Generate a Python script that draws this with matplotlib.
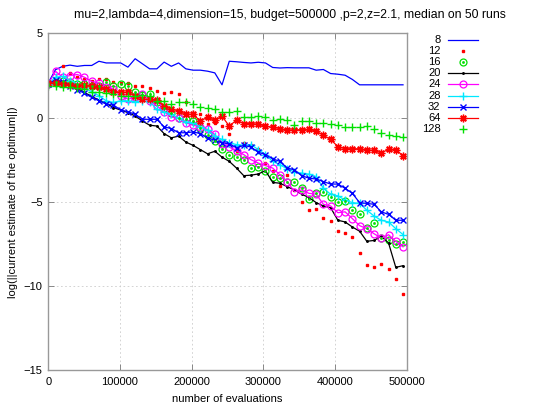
import matplotlib
matplotlib.use("Agg")
import matplotlib.pyplot as plt
from matplotlib.lines import Line2D

plt.rcParams['font.family'] = ['Liberation Sans', 'DejaVu Sans']

title = "mu=2,lambda=4,dimension=15, budget=500000 ,p=2,z=2.1, median on 50 runs"
xlabel = "number of evaluations"
ylabel = "log(||current estimate of the optimum||)"

evaluations = [0, 10100, 20200, 30300, 40400, 50500, 60600, 70700, 80800, 90900,
               101000, 111100, 121200, 131300, 141400, 151500, 161600, 171700, 181800, 191900,
               202000, 212100, 222200, 232300, 242400, 252500, 262600, 272700, 282800, 292900,
               303000, 313100, 323200, 333300, 343400, 353500, 363600, 373700, 383800, 393900,
               404000, 414100, 424200, 434300, 444400, 454500, 464600, 474700, 484800, 494900]

labels = ['8', '12', '16', '20', '24', '28', '32', '64', '128']

s8 = [2.07, 2.85, 3.05, 3.12, 3.05, 3.1, 3.1, 3.35, 3.25, 3.25,
      3.25, 3.0, 3.5, 3.2, 2.9, 2.9, 3.3, 3.05, 3.25, 2.9,
      2.82, 2.82, 2.76, 2.66, 1.95, 3.35, 3.32, 3.28, 3.25, 3.29,
      3.25, 2.98, 2.95, 2.97, 2.96, 2.96, 2.96, 2.82, 2.86, 2.62,
      2.58, 2.52, 2.27, 1.95, 1.95, 1.95, 1.95, 1.95, 1.95, 1.95]

s12 = [2.0, 2.2, 3.05, 2.66, 2.4, 2.3, 2.2, 2.3, 2.27, 2.1,
       2.05, 2.07, 1.9, 1.9, 1.77, 1.6, 1.48, 1.5, 1.38, 0.9,
       0.3, 0.2, -0.4, -0.3, -0.5, -1.0, -2.0, -1.5, -1.6, -1.85,
       -2.7, -3.2, -4.05, -3.42, -4.28, -5.0, -5.52, -5.43, -5.98, -6.12,
       -6.75, -6.86, -7.1, -8.03, -8.74, -8.88, -8.68, -9.02, -9.57, -10.51]

s16 = [2.0, 2.1, 2.2, 2.1, 2.0, 2.0, 1.85, 1.9, 2.1, 1.9,
       2.0, 1.9, 1.5, 1.35, 1.38, 0.9, 0.6, 0.3, 0.0, -0.1,
       -0.2, -0.6, -1.05, -1.4, -1.88, -2.2, -2.37, -2.5, -3.02, -2.95,
       -3.16, -3.55, -3.6, -3.85, -3.8, -4.2, -4.83, -4.5, -4.44, -4.73,
       -5.03, -4.93, -5.52, -5.72, -6.55, -6.25, -7.15, -7.3, -7.5, -7.4]

s20 = [2.0, 2.05, 2.0, 1.9, 1.75, 1.5, 1.25, 1.05, 0.85, 0.6,
       0.45, 0.3, 0.1, -0.2, -0.45, -0.5, -0.95, -1.2, -1.1, -1.45,
       -1.65, -1.9, -2.15, -2.0, -2.35, -2.6, -3.0, -3.45, -3.42, -3.35,
       -3.15, -3.85, -3.9, -4.1, -4.3, -4.55, -4.75, -5.05, -5.25, -5.35,
       -6.1, -6.2, -6.5, -6.75, -7.35, -7.3, -7.05, -7.45, -8.9, -8.8]

s24 = [2.0, 2.75, 2.4, 2.5, 2.56, 2.4, 2.15, 2.05, 1.8, 1.7,
       1.3, 1.1, 1.2, 1.4, 1.0, 0.7, 0.35, 0.05, -0.05, -0.3,
       -0.45, -0.55, -0.7, -1.0, -1.55, -1.75, -1.98, -2.2, -2.5, -2.7,
       -2.85, -3.0, -3.4, -3.8, -4.4, -4.3, -4.5, -4.55, -5.15, -5.25,
       -5.65, -5.6, -6.0, -6.42, -6.6, -6.9, -7.16, -6.96, -7.35, -7.68]

s28 = [2.0, 2.4, 2.45, 2.2, 2.0, 1.75, 1.55, 1.3, 1.0, 0.9,
       1.0, 1.0, 0.95, 1.0, 0.95, 0.5, 0.35, 0.2, -0.05, -0.25,
       -0.3, -0.55, -0.75, -1.1, -1.3, -1.5, -1.6, -1.65, -1.6, -1.9,
       -2.2, -2.6, -2.8, -3.05, -3.22, -3.3, -3.36, -3.5, -4.2, -4.55,
       -4.65, -4.9, -5.05, -5.1, -5.5, -5.85, -6.1, -6.2, -6.6, -6.95]

s32 = [2.0, 2.25, 2.1, 1.9, 1.65, 1.45, 1.2, 1.0, 0.8, 0.75,
       0.45, 0.35, 0.2, -0.1, -0.1, -0.1, -0.55, -0.65, -0.9, -0.9,
       -0.85, -0.95, -1.2, -1.35, -1.5, -1.55, -1.8, -1.65, -1.75, -2.05,
       -2.2, -2.45, -2.6, -3.0, -3.1, -3.45, -3.6, -3.65, -3.8, -3.95,
       -3.95, -4.2, -4.5, -5.05, -5.1, -5.15, -5.6, -5.75, -6.1, -6.1]

s64 = [2.07, 2.05, 2.0, 1.95, 1.9, 1.95, 1.85, 1.8, 1.7, 1.55,
       1.52, 1.5, 1.3, 1.1, 1.08, 1.05, 0.7, 0.5, 0.4, 0.2,
       0.2, -0.2, 0.02, -0.15, 0.08, -0.5, -0.15, -0.35, -0.35, -0.4,
       -0.5, -0.58, -0.65, -0.75, -0.72, -0.72, -0.7, -0.8, -1.05, -1.3,
       -1.72, -1.85, -1.85, -1.85, -1.92, -1.95, -2.1, -1.88, -1.9, -2.27]

s128 = [1.9, 1.88, 1.83, 1.83, 1.77, 1.72, 1.5, 1.55, 1.45, 1.4,
        1.3, 1.3, 1.3, 1.35, 1.3, 1.0, 0.98, 0.78, 0.95, 0.92,
        0.8, 0.65, 0.55, 0.5, 0.35, 0.35, 0.38, 0.02, 0.02, 0.1,
        0.05, -0.15, -0.1, -0.15, -0.42, -0.2, -0.2, -0.3, -0.3, -0.4,
        -0.45, -0.55, -0.55, -0.55, -0.5, -0.65, -0.9, -1.05, -1.1, -1.13]

series = [s8, s12, s16, s20, s24, s28, s32, s64, s128]

BLUE = '#0000ff'
RED = '#ff0000'
GREEN = '#00e000'
MAGENTA = '#ff00ff'
CYAN = '#00e8ff'
BLACK = '#000000'
ASTER = (8, 2, 0)

styles = [
    dict(color=BLUE, lw=0.9, ls='-', marker=None),
    dict(color=RED, lw=0, ls='none', marker='s', ms=1.5),
    dict(color=GREEN, lw=0, ls='none', marker='o', ms=5, mfc='none', mew=0.9),
    dict(color=BLACK, lw=0.9, ls='-', marker='.', ms=2.2),
    dict(color=MAGENTA, lw=0.9, ls='-', marker='o', ms=5, mfc='none', mew=0.9),
    dict(color=CYAN, lw=0.9, ls='-', marker='+', ms=5.5, mew=1.0),
    dict(color=BLUE, lw=0.9, ls='-', marker='x', ms=4.5, mew=1.0),
    dict(color=RED, lw=0.9, ls='-', marker=ASTER, ms=5.5, mew=1.0),
    dict(color=GREEN, lw=0, ls='none', marker='+', ms=5.5, mew=1.0),
]

fig = plt.figure(figsize=(5.4, 4.07), dpi=100)
ax = fig.add_axes([0.0894, 0.0909, 0.6637, 0.8268])

for vals, st in zip(series, styles):
    ax.plot(evaluations, vals, clip_on=True, **st)
# center dots of circle markers (16)
ax.plot(evaluations, s16, ls='none', marker='s', ms=0.9, color=GREEN)

ax.set_xlim(0, 500000)
ax.set_ylim(-15, 5)
ax.set_xticks([0, 100000, 200000, 300000, 400000, 500000])
ax.set_xticklabels(['0', '100000', '200000', '300000', '400000', '500000'])
ax.set_yticks([-15, -10, -5, 0, 5])
ax.tick_params(direction='in', top=True, right=True, length=4, width=0.6,
               color='#777777', labelsize=8, pad=4)
ax.tick_params(axis='x', pad=5)
ax.grid(True, ls=(0, (2, 3)), color='#cccccc', lw=0.6)
ax.set_axisbelow(True)
for sp in ax.spines.values():
    sp.set_color('#999999')
    sp.set_linewidth(1.0)

W, H = 540.0, 407.0
fig.text(290 / W, 1 - 15 / H, title, ha='center', va='center', fontsize=8.8)
ax.set_xlabel(xlabel, fontsize=8, labelpad=5)
ax.set_ylabel(ylabel, fontsize=8, labelpad=4)

# legend (gnuplot style: right-aligned labels, sample to the right)
rows_y = [40, 51, 62.3, 73.3, 84.3, 95.7, 106.7, 118, 129.3]
for lab, st, yp in zip(labels, styles, rows_y):
    yf = 1 - yp / H
    fig.text(440.5 / W, yf, lab, ha='right', va='center', fontsize=8)
    if st['ls'] != 'none':
        fig.add_artist(Line2D([447.5 / W, 478 / W], [yf, yf], color=st['color'],
                              lw=st['lw'], transform=fig.transFigure))
    if st['marker'] is not None:
        kw = {k: v for k, v in st.items() if k in ('marker', 'ms', 'mfc', 'mew', 'color')}
        fig.add_artist(Line2D([462.5 / W], [yf], ls='none', transform=fig.transFigure, **kw))
        if lab == '16':
            fig.add_artist(Line2D([462.5 / W], [yf], ls='none', marker='s', ms=0.9,
                                  color=GREEN, transform=fig.transFigure))

fig.savefig('out.png', dpi=100)
